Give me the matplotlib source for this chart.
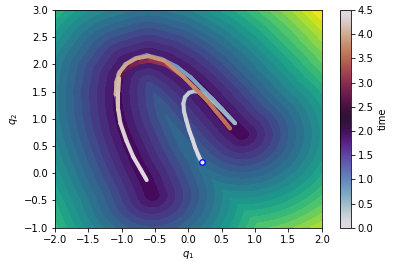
import numpy as np
import matplotlib
matplotlib.use("Agg")
import matplotlib.pyplot as plt
from matplotlib.collections import LineCollection
from matplotlib.colors import Normalize
from matplotlib.cm import ScalarMappable

# centre line of the horseshoe-shaped valley of the potential
valley_q1 = [-0.54, -0.64, -0.75, -0.88, -0.99, -1.05, -1.07, -1.03, -0.90, -0.60,
             -0.35, -0.12, 0.08, 0.25, 0.45, 0.66, 0.80]
valley_q2 = [-0.40, -0.10, 0.15, 0.50, 0.85, 1.15, 1.50, 1.80, 2.02, 2.13,
             2.04, 1.87, 1.66, 1.44, 1.17, 0.88, 0.72]

# trajectory (q1, q2) and time
traj_q1 = [0.20, 0.15, 0.10, 0.06, 0.01, -0.03, -0.065, -0.075, -0.05, 0.01, 0.09, 0.17, 0.26,
           0.38, 0.50, 0.61, 0.70,
           0.64, 0.50, 0.36, 0.225, 0.04, -0.175, -0.40, -0.625, -0.80, -0.95, -1.05, -1.08, -1.08,
           -1.05, -1.02, -0.93, -0.825, -0.72, -0.64,
           -0.72, -0.825, -0.93, -1.02, -1.05, -1.06, -1.04,
           -1.01, -0.95, -0.85, -0.72, -0.575, -0.33, -0.075, 0.10, 0.275, 0.45, 0.625,
           0.55, 0.42, 0.275, 0.09, -0.075, -0.36, -0.60, -0.78, -0.93, -1.03, -1.08, -1.09,
           -1.06, -1.04,
           -1.05, -1.05, -1.02, -0.93, -0.825, -0.72, -0.625]
traj_q2 = [0.20, 0.33, 0.48, 0.63, 0.80, 0.97, 1.14, 1.28, 1.40, 1.48, 1.51, 1.49, 1.44,
           1.31, 1.17, 1.03, 0.92,
           1.00, 1.19, 1.37, 1.53, 1.76, 1.96, 2.10, 2.17, 2.11, 2.00, 1.82, 1.62, 1.42,
           1.16, 0.92, 0.60, 0.30, 0.08, -0.08,
           0.08, 0.30, 0.60, 0.92, 1.16, 1.42, 1.62,
           1.76, 1.89, 1.98, 2.04, 2.07, 1.99, 1.774, 1.57, 1.345, 1.09, 0.825,
           0.94, 1.13, 1.345, 1.57, 1.774, 2.07, 2.15, 2.11, 2.01, 1.86, 1.68, 1.45,
           1.60, 1.745,
           1.50, 1.16, 0.92, 0.60, 0.30, 0.08, -0.125]
traj_t = [0.00, 0.03, 0.07, 0.10, 0.14, 0.18, 0.22, 0.25, 0.28, 0.31, 0.34, 0.36, 0.38,
          0.41, 0.44, 0.47, 0.50,
          0.53, 0.58, 0.63, 0.68, 0.74, 0.80, 0.86, 0.92, 0.97, 1.01, 1.05, 1.09, 1.13,
          1.20, 1.28, 1.38, 1.48, 1.58, 1.70,
          1.82, 1.94, 2.06, 2.18, 2.28, 2.40, 2.52,
          2.62, 2.72, 2.82, 2.92, 3.02, 3.12, 3.22, 3.29, 3.36, 3.43, 3.50,
          3.55, 3.60, 3.65, 3.71, 3.77, 3.83, 3.88, 3.92, 3.95, 3.98, 4.01, 4.04,
          4.08, 4.11,
          4.16, 4.23, 4.28, 4.35, 4.41, 4.46, 4.50]

start_q1, start_q2 = 0.20, 0.20

xticks = [-2.0, -1.5, -1.0, -0.5, 0.0, 0.5, 1.0, 1.5, 2.0]
yticks = [-1.0, -0.5, 0.0, 0.5, 1.0, 1.5, 2.0, 2.5, 3.0]
cbar_ticks = [0.0, 0.5, 1.0, 1.5, 2.0, 2.5, 3.0, 3.5, 4.0, 4.5]
t_min, t_max = 0.0, 4.5


def valley_potential(X, Y, barrier=0.05):
    px = np.asarray(valley_q1)
    py = np.asarray(valley_q2)
    seg = np.hypot(np.diff(px), np.diff(py))
    cum = np.concatenate([[0.0], np.cumsum(seg)])
    total = cum[-1]
    best = np.full(X.shape, np.inf)
    for i in range(len(px) - 1):
        dx, dy = px[i + 1] - px[i], py[i + 1] - py[i]
        u = np.clip(((X - px[i]) * dx + (Y - py[i]) * dy) / (dx * dx + dy * dy), 0, 1)
        d = np.hypot(X - (px[i] + u * dx), Y - (py[i] + u * dy))
        s = (cum[i] + u * seg[i]) / total
        best = np.minimum(best, d + barrier * np.sin(np.pi * s) ** 2)
    return best


dpi = 72
fig = plt.figure(figsize=(394 / dpi, 268 / dpi), dpi=dpi)
ax = fig.add_axes([55 / 394, (268 - 227.7) / 268, 266.7 / 394, 217.7 / 268])
cax = fig.add_axes([339.5 / 394, (268 - 227.7) / 268, 11 / 394, 217.7 / 268])

g1 = np.linspace(-2, 2, 320)
g2 = np.linspace(-1, 3, 320)
X, Y = np.meshgrid(g1, g2)
V = valley_potential(X, Y)
ax.contourf(X, Y, V, levels=np.linspace(V.min(), V.max(), 21), cmap="viridis")

norm = Normalize(t_min, t_max)
pts = np.column_stack([traj_q1, traj_q2])
segs = np.stack([pts[:-1], pts[1:]], axis=1)
tt = np.asarray(traj_t)
lc = LineCollection(segs, cmap="twilight", norm=norm, linewidths=4,
                    capstyle="round", joinstyle="round", zorder=3)
lc.set_array(0.5 * (tt[:-1] + tt[1:]))
ax.add_collection(lc)

ax.plot([start_q1], [start_q2], "o", ms=5.5, mfc="#dfe3f5", mec="blue", mew=1.3, zorder=4)

ax.set_xlim(-2, 2)
ax.set_ylim(-1, 3)
ax.set_xticks(xticks)
ax.set_yticks(yticks)
ax.set_xlabel("$q_1$")
ax.set_ylabel("$q_2$")

cb = fig.colorbar(ScalarMappable(norm=norm, cmap="twilight"), cax=cax, ticks=cbar_ticks)
cb.set_label("time")

fig.savefig("out.png", dpi=dpi)
